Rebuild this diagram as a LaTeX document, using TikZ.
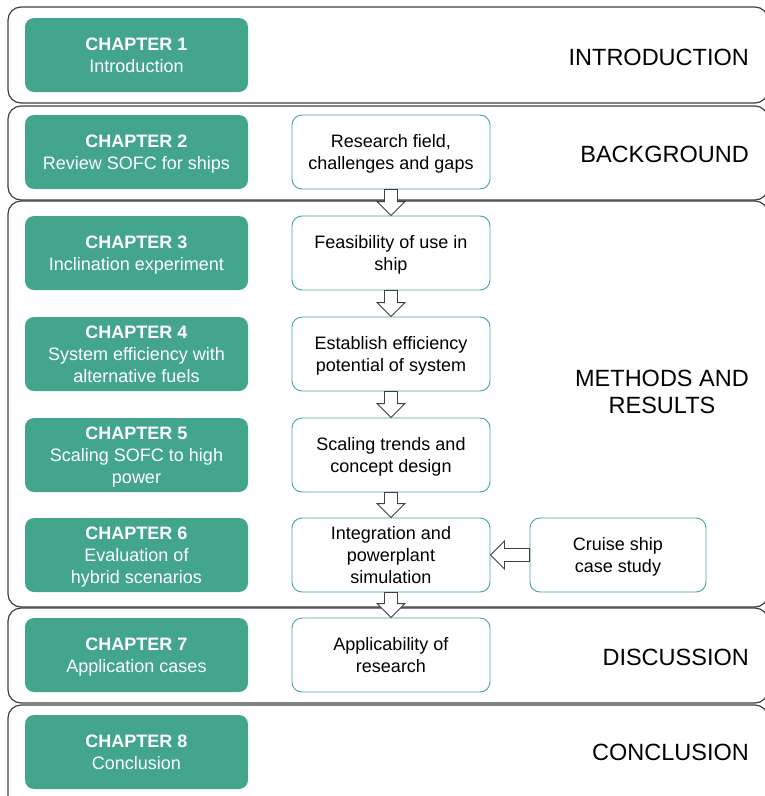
\documentclass[tikz,border=0pt]{standalone}
\usepackage{fontspec}
\setmainfont{Liberation Sans}
\usetikzlibrary{calc}
\definecolor{chapgreen}{RGB}{67,166,140}
\definecolor{framegray}{RGB}{64,64,60}

\begin{document}
\begin{tikzpicture}[x=1pt, y=-1pt]
			\tikzstyle{every node}=[align=center, inner sep=1pt, font=\fontsize{18}{22}\selectfont]
			\tikzstyle{partframe}=[draw=framegray, line width=1.2pt, rounded corners=13pt, minimum width=760pt]
			\tikzstyle{partname}=[anchor=east, font=\fontsize{23.5}{27}\selectfont]
			\tikzstyle{chapbox}=[fill=chapgreen, text=white, rounded corners=9pt, minimum width=223pt, minimum height=74pt, text depth=0pt]
			\tikzstyle{stepbox}=[draw=chapgreen, line width=0.9pt, rounded corners=10pt, minimum width=198pt, minimum height=74pt, text depth=0pt]
			\tikzstyle{hollow}=[draw=framegray, fill=white, line width=0.9pt, to path={
				($(\tikztostart)!6.5pt!90:(\tikztotarget)$)
				-- ($(\tikztotarget)!14pt!(\tikztostart)!6.5pt!90:(\tikztotarget)$)
				-- ($(\tikztotarget)!14pt!(\tikztostart)!14pt!90:(\tikztotarget)$)
				-- (\tikztotarget)
				-- ($(\tikztotarget)!14pt!(\tikztostart)!14pt!-90:(\tikztotarget)$)
				-- ($(\tikztotarget)!14pt!(\tikztostart)!6.5pt!-90:(\tikztotarget)$)
				-- ($(\tikztostart)!6.5pt!-90:(\tikztotarget)$) -- cycle}]
			\useasboundingbox (0,0) rectangle (764,796);

				% parts of the thesis
				\node[partframe, minimum height=96pt] (intro) at (388, 55) {};
				\node[partframe, minimum height=94pt] (backg) at (388, 153) {};
				\node[partframe, minimum height=406pt] (methods) at (388, 404) {};
				\node[partframe, minimum height=95pt] (disc) at (388, 655.5) {};
				\node[partframe, minimum height=105pt] (concl) at (388, 757.5) {};

				\node[partname] (introname) at (750, 57) {INTRODUCTION};
				\node[partname] (backgname) at (750, 154) {BACKGROUND};
				\node[partname] (methodsname) at (750, 392) {METHODS AND\\RESULTS};
				\node[partname] (discname) at (750, 657) {DISCUSSION};
				\node[partname] (conclname) at (750, 752) {CONCLUSION};

				% chapters
				\node[chapbox] (ch1) at (136.5, 55) {\textbf{CHAPTER 1}\\Introduction};
				\node[chapbox] (ch2) at (136.5, 152) {\textbf{CHAPTER 2}\\Review SOFC for ships};
				\node[chapbox] (ch3) at (136.5, 253) {\textbf{CHAPTER 3}\\Inclination experiment};
				\node[chapbox] (ch4) at (136.5, 354) {\textbf{CHAPTER 4}\\System efficiency with\\alternative fuels};
				\node[chapbox] (ch5) at (136.5, 455) {\textbf{CHAPTER 5}\\Scaling SOFC to high\\power};
				\node[chapbox] (ch6) at (136.5, 555) {\textbf{CHAPTER 6}\\Evaluation of\\hybrid scenarios};
				\node[chapbox] (ch7) at (136.5, 655) {\textbf{CHAPTER 7}\\Application cases};
				\node[chapbox] (ch8) at (136.5, 752) {\textbf{CHAPTER 8}\\Conclusion};

				% research steps
				\node[stepbox] (field) at (391, 152) {Research field,\\challenges and gaps};
				\node[stepbox] (feas) at (391, 253) {Feasibility of use in\\ship};
				\node[stepbox] (eff) at (391, 354) {Establish efficiency\\potential of system};
				\node[stepbox] (scaling) at (391, 455) {Scaling trends and\\concept design};
				\node[stepbox] (integ) at (391, 555) {Integration and\\powerplant\\simulation};
				\node[stepbox] (appl) at (391, 655) {Applicability of\\research};
				\node[stepbox, minimum width=176pt] (cruise) at (618, 555) {Cruise ship\\case study};

				\draw[hollow] (field.south) to (feas.north);
				\draw[hollow] (feas.south) to (eff.north);
				\draw[hollow] (eff.south) to (scaling.north);
				\draw[hollow] (scaling.south) to (integ.north);
				\draw[hollow] (integ.south) to (appl.north);
				\draw[hollow] (cruise.west) to (integ.east);
\end{tikzpicture}
\end{document}
